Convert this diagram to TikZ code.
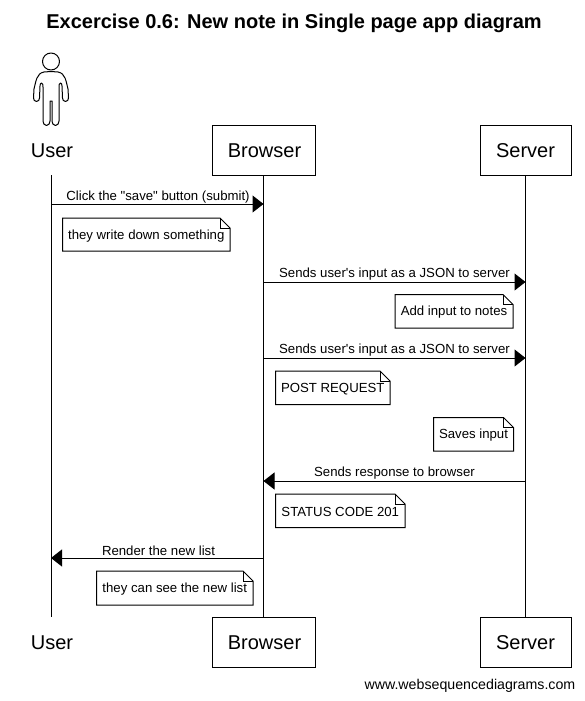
\documentclass[tikz,border=0pt]{standalone}
\usepackage{fontspec}
\setmainfont{Liberation Sans}[Ligatures=TeXOff]
\usetikzlibrary{arrows.meta}
\tikzset{
  actorbox/.style={draw=black,line width=1pt,fill=white,inner sep=0pt,font=\fontsize{20}{24}\selectfont},
  actorlabel/.style={inner sep=0pt,font=\fontsize{20}{24}\selectfont},
  lifeline/.style={draw=black,line width=1pt},
  msg/.style={draw=black,line width=1pt,-{Triangle[length=11pt,width=17pt]},shorten >=0pt},
  msglabel/.style={inner sep=0pt,font=\fontsize{13.2}{16}\selectfont},
  notebox/.style={inner sep=0pt,font=\fontsize{13.2}{16}\selectfont},
  noteline/.style={draw=black,line width=1pt,fill=white},
  figureline/.style={draw=black,line width=1pt,line join=round}
}
% name, left, right, top, bottom, text
\newcommand{\notenode}[6]{%
  \path[noteline] (#2,#4) -- (#3-10,#4) -- (#3,#4+10) -- (#3,#5) -- (#2,#5) -- cycle;
  \draw[black,line width=1pt] (#3-10,#4) -- (#3-10,#4+10) -- (#3,#4+10);
  \node[notebox] (#1) at ({(#2+#3)/2},{(#4+#5)/2+1.3}) {#6};%
}
\begin{document}
\begin{tikzpicture}[x=1pt,y=-1pt]
\useasboundingbox (0,0) rectangle (584,701);
\fill[white] (0,0) rectangle (584,701);

\node[inner sep=0pt,font=\bfseries\fontsize{20}{24}\selectfont] (title) at (294,23.5) {Excercise 0.6: New note in Single page app diagram};

% actor figure
\draw[figureline] (51,61.5) circle (8.5);
\draw[figureline]
  (51,71.5) -- (44,72) to[out=190,in=75] (34,89) -- (33.5,98)
  to[out=-90,in=180] (36.5,101.5) to[out=0,in=-90] (39.5,98) -- (40,86)
  to[out=80,in=180] (41.5,83) to[out=0,in=100] (43,87) -- (43,121) to[out=-90,in=180] (46.5,125.5) to[out=0,in=-90] (50,121) -- (50,101) -- (52,101) -- (52,121)
  to[out=-90,in=180] (55.5,125.5) to[out=0,in=-90] (59,121) -- (59,87) to[out=80,in=180] (60.5,83) to[out=0,in=100] (62,86) -- (62.5,98)
  to[out=-90,in=180] (65.5,101.5) to[out=0,in=-90] (68.5,98) -- (68,89) to[out=105,in=-10] (58,72) -- cycle;

% lifelines' anchors
\node[actorlabel] (ut) at (52,150.5) {User};
\coordinate (uts) at (51,175);
\node[actorbox,minimum width=103pt,minimum height=50pt] (bt) at (263.5,150) {};
\node[actorlabel] (btl) at (264.5,150.5) {Browser};
\node[actorbox,minimum width=91pt,minimum height=50pt] (st) at (525.5,150) {};
\node[actorlabel] (stl) at (525.5,150.5) {Server};
\node[actorlabel] (ub) at (52,642.5) {User};
\coordinate (ubs) at (51,617);
\node[actorbox,minimum width=103pt,minimum height=50pt] (bb) at (263.5,642) {};
\node[actorlabel] (bbl) at (264.5,642.5) {Browser};
\node[actorbox,minimum width=91pt,minimum height=50pt] (sb) at (525.5,642) {};
\node[actorlabel] (sbl) at (525.5,642.5) {Server};

\draw[lifeline] (uts) -- (ubs);
\draw[lifeline] (bt) -- (bb);
\draw[lifeline] (st) -- (sb);

% messages
\coordinate (m1a) at (51,204); \coordinate (m1b) at (263.5,204);
\coordinate (m2a) at (263.5,282); \coordinate (m2b) at (525.5,282);
\coordinate (m3a) at (263.5,358); \coordinate (m3b) at (525.5,358);
\coordinate (m4a) at (525.5,481); \coordinate (m4b) at (263.5,481);
\coordinate (m5a) at (263.5,558); \coordinate (m5b) at (51,558);
\draw[msg] (m1a) -- (m1b);
\draw[msg] (m2a) -- (m2b);
\draw[msg] (m3a) -- (m3b);
\draw[msg] (m4a) -- (m4b);
\draw[msg] (m5a) -- (m5b);

\node[msglabel] (l1) at (158,197.5) {Click the "save" button (submit)};
\node[msglabel] (l2) at (394.5,274.5) {Sends user's input as a JSON to server};
\node[msglabel] (l3) at (394.5,350.5) {Sends user's input as a JSON to server};
\node[msglabel] (l4) at (394.5,473.5) {Sends response to browser};
\node[msglabel] (l5) at (158.5,550.5) {Render the new list};

% notes
\notenode{n1}{62.5}{230}{218}{251}{they write down something}
\notenode{n2}{395}{513}{294.5}{328}{Add input to notes}
\notenode{n3}{275.5}{390}{371}{404.5}{POST REQUEST}
\notenode{n4}{433.5}{513.5}{417.5}{451}{Saves input}
\notenode{n5}{275.5}{405}{494}{527.5}{STATUS CODE 201}
\notenode{n6}{96.5}{253}{571}{605}{they can see the new list}

\node[anchor=east,inner sep=0pt,font=\fontsize{14.2}{17}\selectfont] (wm) at (575.5,685.5) {www.websequencediagrams.com};
\end{tikzpicture}
\end{document}
